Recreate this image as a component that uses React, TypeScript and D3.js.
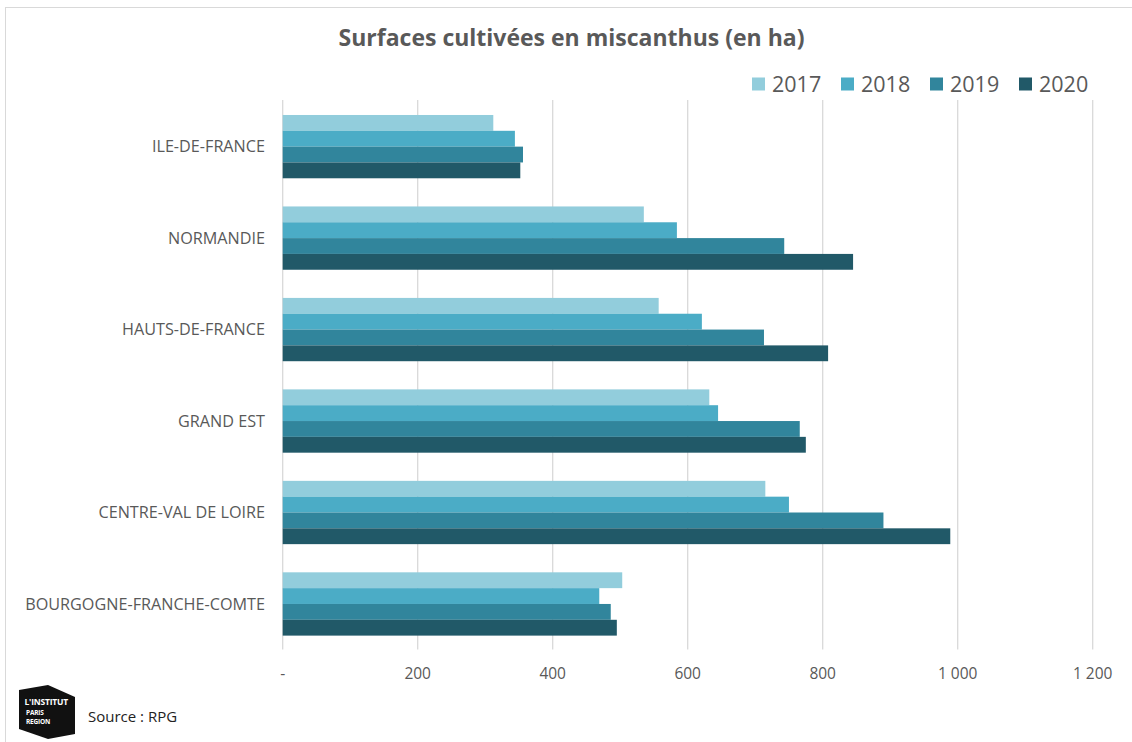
import React from "react";
import * as d3 from "d3";

const regions = [
  "ILE-DE-FRANCE",
  "NORMANDIE",
  "HAUTS-DE-FRANCE",
  "GRAND EST",
  "CENTRE-VAL DE LOIRE",
  "BOURGOGNE-FRANCHE-COMTE",
];
const years = ["2017", "2018", "2019", "2020"];
const values2017 = [312, 535, 557, 632, 715, 503];
const values2018 = [344, 584, 621, 645, 750, 469];
const values2019 = [356, 743, 713, 766, 890, 486];
const values2020 = [352, 845, 808, 775, 989, 495];
const xTicks = [0, 200, 400, 600, 800, 1000, 1200];
const yearColors = ["#92CDDC", "#4BACC6", "#31859C", "#215968"];

const series = [values2017, values2018, values2019, values2020];

const W = 1132;
const H = 742;
const FONT = "'Open Sans', 'Noto Sans', sans-serif";
const TEXT = "#595959";

// French number format: "-" for zero, space as thousands separator
const fmt = (v: number) => {
  if (v === 0) return "-";
  return d3.format(",")(v).replace(/,/g, "\u00A0");
};

export default function App() {
  const x = d3.scaleLinear().domain([0, 1200]).range([282.7, 1092.7]);
  const y = d3
    .scaleBand<string>()
    .domain(regions)
    .range([100.9, 649.7])
    .paddingInner(0.308)
    .paddingOuter(0.154);
  const sub = d3.scaleBand<string>().domain(years).range([0, y.bandwidth()]);

  const legendX = d3.scaleOrdinal<string, number>().domain(years).range([752, 841, 930, 1019]);

  return (
    <svg
      width={W}
      height={H}
      style={{ position: "absolute", left: 0, top: 0, background: "#fff" }}
      fontFamily={FONT}
    >
      {/* frame */}
      <rect x={5.5} y={7.5} width={W + 10} height={H + 10} fill="none" stroke="#D9D9D9" strokeWidth={1} />

      {/* title */}
      <text x={571.5} y={46} textAnchor="middle" fontSize={23} fontWeight={700} fill={TEXT}>
        Surfaces cultivées en miscanthus (en ha)
      </text>

      {/* legend */}
      {years.map((yr, i) => (
        <g key={yr} transform={`translate(${legendX(yr)},0)`}>
          <rect x={0} y={77.5} width={13} height={13} fill={yearColors[i]} />
          <text x={20} y={91.5} fontSize={21.5} fill={TEXT}>
            {yr}
          </text>
        </g>
      ))}

      {/* gridlines */}
      {xTicks.map((t) => (
        <line
          key={t}
          x1={x(t)}
          x2={x(t)}
          y1={100}
          y2={649.5}
          stroke="#D9D9D9"
          strokeWidth={1.3}
        />
      ))}

      {/* bars */}
      {regions.map((r, ri) => (
        <g key={r} transform={`translate(0,${y(r)})`}>
          {years.map((yr, yi) => (
            <rect
              key={yr}
              x={x(0)}
              y={sub(yr)}
              width={x(series[yi][ri]) - x(0)}
              height={sub.bandwidth()}
              fill={yearColors[yi]}
            />
          ))}
        </g>
      ))}

      {/* category labels */}
      {regions.map((r) => (
        <text
          key={r}
          x={265}
          y={(y(r) as number) + y.bandwidth() / 2 + 5.8}
          textAnchor="end"
          fontSize={16.2}
          fill={TEXT}
        >
          {r}
        </text>
      ))}

      {/* x tick labels */}
      {xTicks.map((t) => (
        <text key={t} x={x(t)} y={679} textAnchor="middle" fontSize={15.5} fill={TEXT}>
          {fmt(t)}
        </text>
      ))}

      {/* logo */}
      <g>
        <path d="M19,690 L48,685 L75,697 L75,734 L48,739 L19,729 Z" fill="#111" />
        <text x={24.5} y={705} fontSize={8.5} fontWeight={700} fill="#fff" letterSpacing={-0.2}>
          L'INSTITUT
        </text>
        <text x={26} y={714.5} fontSize={6.5} fontWeight={700} fill="#fff" letterSpacing={-0.2}>
          PARIS
        </text>
        <text x={26} y={723.5} fontSize={6.5} fontWeight={700} fill="#fff" letterSpacing={-0.2}>
          REGION
        </text>
      </g>

      {/* source */}
      <text x={88} y={722} fontSize={15} fill="#222">
        Source : RPG
      </text>
    </svg>
  );
}
